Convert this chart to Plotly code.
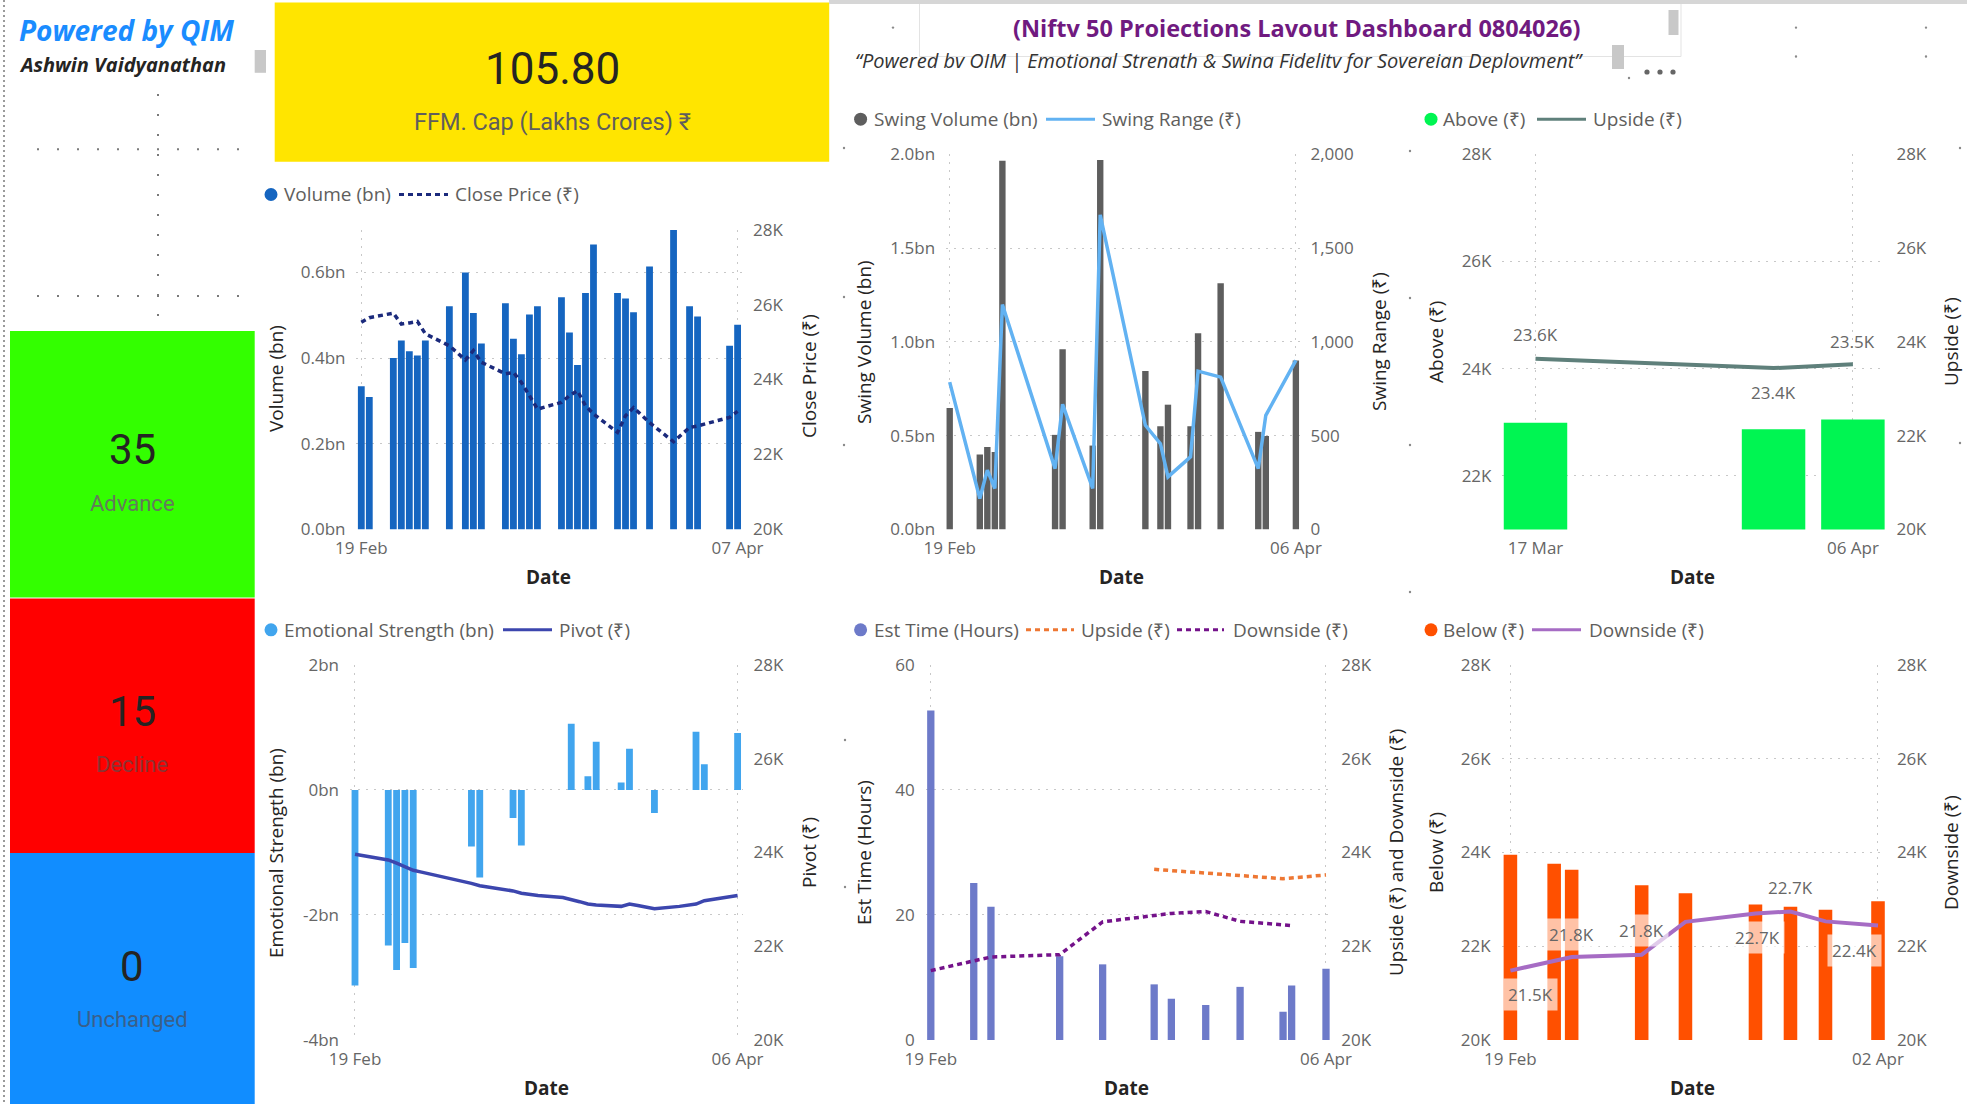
import plotly.graph_objects as go
import pandas as pd

# ======================= DATA =======================
vol_dates = ["2026-02-19", "2026-02-20", "2026-02-23", "2026-02-24", "2026-02-25", "2026-02-26",
             "2026-02-27", "2026-03-02", "2026-03-04", "2026-03-05", "2026-03-06", "2026-03-09",
             "2026-03-10", "2026-03-11", "2026-03-12", "2026-03-13", "2026-03-16", "2026-03-17",
             "2026-03-18", "2026-03-19", "2026-03-20", "2026-03-23", "2026-03-24", "2026-03-25",
             "2026-03-27", "2026-03-30", "2026-04-01", "2026-04-02", "2026-04-06", "2026-04-07"]
volume_bn = [0.334, 0.309, 0.400, 0.441, 0.416, 0.406, 0.441, 0.521, 0.600, 0.505, 0.434, 0.528,
             0.445, 0.409, 0.502, 0.521, 0.542, 0.460, 0.384, 0.552, 0.665, 0.552, 0.539, 0.507,
             0.614, 0.699, 0.521, 0.497, 0.429, 0.478]
close_price = [25530, 25650, 25770, 25480, 25510, 25550, 25220, 24900, 24520, 24770, 24460, 24150,
               24190, 23920, 23570, 23210, 23390, 23570, 23700, 23300, 23080, 22590, 23030, 23250,
               22850, 22340, 22720, 22760, 22990, 23150]

swing_dates = ["2026-02-19", "2026-02-23", "2026-02-24", "2026-02-25", "2026-02-26", "2026-03-05",
               "2026-03-06", "2026-03-10", "2026-03-11", "2026-03-17", "2026-03-19", "2026-03-20",
               "2026-03-23", "2026-03-24", "2026-03-27", "2026-04-01", "2026-04-02", "2026-04-06"]
swing_volume_bn = [0.647, 0.400, 0.440, 0.413, 1.965, 0.504, 0.961, 0.447, 1.970, 0.844, 0.550,
                   0.665, 0.550, 1.046, 1.312, 0.520, 0.498, 0.900]
swing_range = [785, 165, 316, 218, 1199, 324, 667, 218, 1677, 555, 457, 280, 387, 844, 812, 324,
               608, 901]

above_dates = ["2026-03-17", "2026-04-01", "2026-04-06"]
above_vals = [22990, 22870, 23050]
upside_vals = [23640, 23440, 23520]

emotional_bn = [-3.13, -2.49, -2.88, -2.45, -2.85, -0.906, -1.40, -0.45, -0.89, 1.06, 0.22, 0.77,
                0.117, 0.66, -0.37, 0.93, 0.41, 0.91]
pivot_dates = vol_dates[:29]
pivot_vals = [23960, 23930, 23840, 23770, 23700, 23620, 23580, 23460, 23390, 23340, 23290, 23220,
              23180, 23130, 23110, 23080, 23040, 23000, 22950, 22900, 22880, 22850, 22900, 22870,
              22800, 22850, 22900, 22970, 23080]

est_dates = ["2026-02-19", "2026-02-24", "2026-02-26", "2026-03-06", "2026-03-11", "2026-03-17",
             "2026-03-19", "2026-03-23", "2026-03-27", "2026-04-01", "2026-04-02", "2026-04-06"]
est_hours = [52.7, 25.1, 21.3, 13.4, 12.1, 8.9, 6.6, 5.6, 8.5, 4.5, 8.7, 11.4]

below_dates = ["2026-02-19", "2026-02-24", "2026-02-26", "2026-03-06", "2026-03-11", "2026-03-19",
               "2026-03-23", "2026-03-27", "2026-04-02"]
below_vals = [23950, 23760, 23630, 23300, 23130, 22890, 22840, 22780, 22960]
downside_vals = [21480, 21700, 21770, 21820, 22520, 22700, 22740, 22530, 22440]

ffm_cap = "105.80"
advance, decline, unchanged = 35, 15, 0

price_ticks = [20000, 22000, 24000, 26000, 28000]
price_ticktext = ["20K", "22K", "24K", "26K", "28K"]
above_ticks = [22000, 24000, 26000, 28000]
above_ticktext = ["22K", "24K", "26K", "28K"]
vol_ticks = [0, 0.2, 0.4, 0.6]
vol_ticktext = ["0.0bn", "0.2bn", "0.4bn", "0.6bn"]
swing_ticks = [0, 0.5, 1.0, 1.5, 2.0]
swing_ticktext = ["0.0bn", "0.5bn", "1.0bn", "1.5bn", "2.0bn"]
range_ticks = [0, 500, 1000, 1500, 2000]
range_ticktext = ["0", "500", "1,000", "1,500", "2,000"]
emo_ticks = [-4, -2, 0, 2]
emo_ticktext = ["-4bn", "-2bn", "0bn", "2bn"]
est_ticks = [0, 20, 40, 60]
est_ticktext = ["0", "20", "40", "60"]

# ======================= STYLE =======================
W, H = 1967, 1104
FONT = "Segoe UI, Open Sans, sans-serif"
TICK_COLOR = "#666666"
TITLE_COLOR = "#252423"
LEG_COLOR = "#605E5C"
GRID = "#c8c8c8"
GDASH = "2px,6px"
DAY_MS = 86400000


def fx(px):
    return px / W


def fy(py):
    return 1 - py / H


layout = dict(width=W, height=H, margin=dict(l=0, r=0, t=0, b=0), paper_bgcolor="white",
              plot_bgcolor="rgba(0,0,0,0)", showlegend=False, template="none",
              font=dict(family=FONT), hovermode=False)
shapes, annotations, traces = [], [], []


def setup(i, first, last, g, yl, yr):
    xname = "xaxis" if i == 1 else f"xaxis{i}"
    xref = "x" if i == 1 else f"x{i}"
    li, ri = 2 * i - 1, 2 * i
    ylname = "yaxis" if li == 1 else f"yaxis{li}"
    ylref = "y" if li == 1 else f"y{li}"
    yrname, yrref = f"yaxis{ri}", f"y{ri}"
    t0, t1 = pd.Timestamp(first), pd.Timestamp(last)
    span = (t1 - t0).days
    ppd = (g["x1"] - g["x0"]) / span
    lpx = g["x0"] - g["pl"] * ppd
    rpx = g["x1"] + g["pr"] * ppd
    r0 = (t0 - pd.Timedelta(days=g["pl"])).isoformat()
    r1 = (t1 + pd.Timedelta(days=g["pr"])).isoformat()
    tickfont = dict(size=17, color=TICK_COLOR, family=FONT)
    layout[xname] = dict(type="date", domain=[fx(lpx), fx(rpx)], range=[r0, r1], anchor=ylref,
                         tickvals=[first, last], tickformat="%d %b", showgrid=True,
                         gridcolor=GRID, griddash=GDASH, gridwidth=1, zeroline=False,
                         showline=False, ticks="", tickfont=tickfont, ticklabelstandoff=7,
                         automargin=False, fixedrange=True)
    layout[ylname] = dict(domain=[fy(g["bot"]), fy(g["top"])], anchor=xref, range=yl[0],
                          tickvals=yl[1], ticktext=yl[2], showgrid=True, gridcolor=GRID,
                          griddash=GDASH, gridwidth=1, zeroline=False, showline=False,
                          ticks="", tickfont=tickfont, ticklabelstandoff=10, automargin=False,
                          fixedrange=True)
    layout[yrname] = dict(overlaying=ylref, side="right", anchor=xref, range=yr[0],
                          tickvals=yr[1], ticktext=yr[2], showgrid=False, zeroline=False,
                          showline=False, ticks="", tickfont=tickfont, ticklabelstandoff=10,
                          automargin=False, fixedrange=True)
    return xref, ylref, yrref


def text(x, y, s, size, color, xanchor="center", yanchor="middle", angle=0, family=FONT):
    annotations.append(dict(x=fx(x), y=fy(y), xref="paper", yref="paper", text=s,
                            showarrow=False, xanchor=xanchor, yanchor=yanchor, textangle=angle,
                            font=dict(size=size, color=color, family=family)))


def rect(x0, y0, x1, y1, fill, line=None):
    shapes.append(dict(type="rect", xref="paper", yref="paper", x0=fx(x0), x1=fx(x1),
                       y0=fy(y1), y1=fy(y0), fillcolor=fill,
                       line=line if line else dict(width=0), layer="below"))


def hline(x0, x1, y, color, width, dash="solid"):
    shapes.append(dict(type="line", xref="paper", yref="paper", x0=fx(x0), x1=fx(x1),
                       y0=fy(y), y1=fy(y), line=dict(color=color, width=width, dash=dash)))


def vline(x, y0, y1, color, width, dash="solid"):
    shapes.append(dict(type="line", xref="paper", yref="paper", x0=fx(x), x1=fx(x),
                       y0=fy(y0), y1=fy(y1), line=dict(color=color, width=width, dash=dash)))


def dot(cx, cy, r, color):
    shapes.append(dict(type="circle", xref="paper", yref="paper", x0=fx(cx - r), x1=fx(cx + r),
                       y0=fy(cy + r), y1=fy(cy - r), fillcolor=color, line=dict(width=0)))


def legend(items, y):
    for kind, x0, x1, color, dash, label, tx in items:
        if kind == "dot":
            dot(x0, y, 6.5, color)
        else:
            hline(x0, x1, y, color, 3, dash)
        text(tx, y, label, 19, LEG_COLOR, xanchor="left")


def axis_titles(left, lx, ly, right, rx, ry, dx, dy):
    text(lx, ly, left, 19, TITLE_COLOR, angle=-90)
    text(rx, ry, right, 19, TITLE_COLOR, angle=-90)
    text(dx, dy, "<b>Date</b>", 19, TITLE_COLOR)


def kfmt(v):
    return f"{v / 1000:.1f}K"


G1 = dict(x0=361.3, x1=737.6, pl=0.6, pr=0.55, top=229.6, bot=529.4)
G2 = dict(x0=949.7, x1=1295.9, pl=0.48, pr=0.48, top=154.3, bot=529.4)
G3 = dict(x0=1535.5, x1=1852.9, pl=2.08, pr=2.05, top=154.3, bot=529.4)
G4 = dict(x0=355.0, x1=737.6, pl=0.6, pr=0.6, top=664.9, bot=1040.0)
G5 = dict(x0=930.8, x1=1326.0, pl=0.6, pr=0.5, top=664.9, bot=1040.0)
G6 = dict(x0=1510.4, x1=1878.0, pl=1.0, pr=0.9, top=664.9, bot=1040.0)

C1_BAR, C1_LINE = "#1565C0", "#1B2A7C"
C2_BAR, C2_LINE = "#5e5e5e", "#62B2F2"
C3_BAR, C3_LINE = "#00F552", "#5F807B"
C4_BAR, C4_LINE = "#41A5EE", "#3C46AE"
C5_BAR, C5_UP, C5_DN = "#6D7AC9", "#EE7733", "#74128A"
C6_BAR, C6_LINE = "#FF5000", "#A66CC4"
LDASH = "5px,4px"

# ---------------- Chart 1: Volume / Close Price ----------------
xr, yl, yr = setup(1, vol_dates[0], vol_dates[-1], G1, ([0, 0.7], vol_ticks, vol_ticktext),
                   ([20000, 28000], price_ticks, price_ticktext))
traces.append(go.Bar(x=vol_dates, y=volume_bn, width=0.85 * DAY_MS, marker=dict(color=C1_BAR, line=dict(width=0)),
                     xaxis=xr, yaxis=yl))
traces.append(go.Scatter(x=vol_dates, y=close_price, mode="lines", line=dict(color=C1_LINE, width=3.5, dash=LDASH),
                         xaxis=xr, yaxis=yr))
legend([("dot", 271, 0, C1_BAR, None, "Volume (bn)", 282),
        ("line", 399, 448, C1_LINE, LDASH, "Close Price (₹)", 453)], 194.5)
axis_titles("Volume (bn)", 276, 379, "Close Price (₹)", 809, 376, 548, 577)

# ---------------- Chart 2: Swing Volume / Swing Range ----------------
xr, yl, yr = setup(2, swing_dates[0], swing_dates[-1], G2, ([0, 2.0], swing_ticks, swing_ticktext),
                   ([0, 2000], range_ticks, range_ticktext))
traces.append(go.Bar(x=swing_dates, y=swing_volume_bn, width=0.85 * DAY_MS,
                     marker=dict(color=C2_BAR, line=dict(width=0)), xaxis=xr, yaxis=yl))
traces.append(go.Scatter(x=swing_dates, y=swing_range, mode="lines", line=dict(color=C2_LINE, width=3.5),
                         xaxis=xr, yaxis=yr))
legend([("dot", 860.6, 0, C2_BAR, None, "Swing Volume (bn)", 872),
        ("line", 1046, 1095, C2_LINE, "solid", "Swing Range (₹)", 1100)], 119.2)
axis_titles("Swing Volume (bn)", 864, 342, "Swing Range (₹)", 1379, 342, 1121, 577)

# ---------------- Chart 3: Above / Upside ----------------
xr, yl, yr = setup(3, above_dates[0], above_dates[-1], G3, ([21000, 28000], above_ticks, above_ticktext),
                   ([20000, 28000], price_ticks, price_ticktext))
traces.append(go.Bar(x=above_dates, y=above_vals, width=4.0 * DAY_MS,
                     marker=dict(color=C3_BAR, line=dict(width=0)), xaxis=xr, yaxis=yl))
traces.append(go.Scatter(x=above_dates, y=upside_vals, mode="lines", line=dict(color=C3_LINE, width=4),
                         xaxis=xr, yaxis=yr))
for k, shift in zip(range(len(above_dates)), [24, -24, 23]):
    annotations.append(dict(x=above_dates[k], y=upside_vals[k], xref=xr, yref=yr, text=kfmt(upside_vals[k]),
                            showarrow=False, yshift=shift, font=dict(size=17, color=TICK_COLOR, family=FONT)))
legend([("dot", 1431, 0, C3_BAR, None, "Above (₹)", 1441),
        ("line", 1537, 1586, C3_LINE, "solid", "Upside (₹)", 1591)], 119.2)
axis_titles("Above (₹)", 1436, 342, "Upside (₹)", 1951, 342, 1692, 577)

# ---------------- Chart 4: Emotional Strength / Pivot ----------------
xr, yl, yr = setup(4, swing_dates[0], swing_dates[-1], G4, ([-4, 2], emo_ticks, emo_ticktext),
                   ([20000, 28000], price_ticks, price_ticktext))
traces.append(go.Bar(x=swing_dates, y=emotional_bn, width=0.82 * DAY_MS,
                     marker=dict(color=C4_BAR, line=dict(width=0)), xaxis=xr, yaxis=yl))
traces.append(go.Scatter(x=pivot_dates, y=pivot_vals, mode="lines", line=dict(color=C4_LINE, width=3.5),
                         xaxis=xr, yaxis=yr))
legend([("dot", 271, 0, C4_BAR, None, "Emotional Strength (bn)", 282),
        ("line", 503, 552, C4_LINE, "solid", "Pivot (₹)", 557)], 629.8)
axis_titles("Emotional Strength (bn)", 276, 853, "Pivot (₹)", 809, 853, 546, 1088)

# ---------------- Chart 5: Est Time / Upside & Downside ----------------
xr, yl, yr = setup(5, est_dates[0], est_dates[-1], G5, ([0, 60], est_ticks, est_ticktext),
                   ([20000, 28000], price_ticks, price_ticktext))
traces.append(go.Bar(x=est_dates, y=est_hours, width=0.85 * DAY_MS,
                     marker=dict(color=C5_BAR, line=dict(width=0)), xaxis=xr, yaxis=yl))
traces.append(go.Scatter(x=above_dates, y=upside_vals, mode="lines", line=dict(color=C5_UP, width=3.5, dash=LDASH),
                         xaxis=xr, yaxis=yr))
traces.append(go.Scatter(x=below_dates, y=downside_vals, mode="lines", line=dict(color=C5_DN, width=3.5, dash=LDASH),
                         xaxis=xr, yaxis=yr))
legend([("dot", 860.6, 0, C5_BAR, None, "Est Time (Hours)", 872),
        ("line", 1026, 1074, C5_UP, LDASH, "Upside (₹)", 1079),
        ("line", 1177, 1224, C5_DN, LDASH, "Downside (₹)", 1231)], 629.8)
axis_titles("Est Time (Hours)", 864, 853, "Upside (₹) and Downside (₹)", 1396, 853, 1126, 1088)

# ---------------- Chart 6: Below / Downside ----------------
xr, yl, yr = setup(6, below_dates[0], below_dates[-1], G6, ([20000, 28000], price_ticks, price_ticktext),
                   ([20000, 28000], price_ticks, price_ticktext))
traces.append(go.Bar(x=below_dates, y=below_vals, width=1.55 * DAY_MS,
                     marker=dict(color=C6_BAR, line=dict(width=0)), xaxis=xr, yaxis=yl))
traces.append(go.Scatter(x=below_dates, y=downside_vals, mode="lines", line=dict(color=C6_LINE, width=4),
                         xaxis=xr, yaxis=yr))
label_style = [(0, -24, "left", -7), (2, 23, "center", 0), (3, 24, "center", 0),
               (5, -24, "center", 2), (6, 24, "center", 0), (8, -25, "right", 4)]
for k, ys, xa, xs in label_style:
    annotations.append(dict(x=below_dates[k], y=downside_vals[k], xref=xr, yref=yr, text=kfmt(downside_vals[k]),
                            showarrow=False, yshift=ys, xshift=xs, xanchor=xa,
                            bgcolor="rgba(255,255,255,0.65)", borderpad=4,
                            font=dict(size=17, color=TICK_COLOR, family=FONT)))
legend([("dot", 1431, 0, C6_BAR, None, "Below (₹)", 1441),
        ("line", 1532, 1581, C6_LINE, "solid", "Downside (₹)", 1587)], 629.8)
axis_titles("Below (₹)", 1436, 853, "Downside (₹)", 1951, 853, 1692, 1088)

# ---------------- Header / side panel ----------------
vline(4, 0, 1104, "#9a9a9a", 2, "2px,3px")
hline(829, 1967, 2, "#d6d6d6", 4)
text(17, 30, "<b><i>Powered by QIM</i></b>", 28, "#1A8CFF", xanchor="left")
text(17, 65, "<b><i>Ashwin Vaidyanathan</i></b>", 20, "#252423", xanchor="left")
rect(254.7, 50, 266, 72.8, "#c8c8c8")
hline(37, 251, 149.3, "#7a7a7a", 2, "2px,18px")
hline(37, 251, 296, "#7a7a7a", 2, "2px,18px")
vline(158, 94, 320, "#7a7a7a", 2, "2px,18px")

rect(274.7, 2.5, 829.2, 161.8, "#FFE500")
text(552, 69, ffm_cap, 44, "#252423", family="Roboto, DejaVu Sans, sans-serif")
text(552, 122, "FFM. Cap (Lakhs Crores) ₹", 23.5, "#605E5C", family="Roboto, DejaVu Sans, sans-serif")

CARD_FONT = "Roboto, DejaVu Sans, sans-serif"
rect(10, 331, 254.7, 597.5, "#33FF00")
rect(10, 598.4, 254.7, 853, "#FF0000")
rect(10, 853, 254.7, 1104, "#118DFF")
text(132, 449, str(advance), 42, "#252423", family=CARD_FONT)
text(132, 503, "Advance", 22, "#647a5c", family=CARD_FONT)
text(132, 711, str(decline), 42, "#252423", family=CARD_FONT)
text(132, 764, "Decline", 22, "#8c3434", family=CARD_FONT)
text(132, 966, str(unchanged), 42, "#252423", family=CARD_FONT)
text(132, 1019, "Unchanged", 22, "#3a5f8a", family=CARD_FONT)

rect(919.5, 2.5, 1681, 56.5, "white", dict(color="#e3e3e3", width=1))
text(1296, 28, "<b>(Niftv 50 Proiections Lavout Dashboard 0804026)</b>", 23.5, "#701A80")
text(853, 61, "<i>\u201cPowered bv OIM | Emotional Strenath & Swina Fidelitv for Sovereian Deplovment\u201d</i>",
     20, "#333333", xanchor="left")
rect(1668.5, 10, 1678.5, 35, "#c8c8c8")
rect(1612, 45, 1624, 69, "#c8c8c8")
for cx in (1647, 1660, 1673):
    dot(cx, 72, 2.6, "#666666")

for (cx, cy) in [(893, 27.6), (1796, 27.6), (1926, 27.6), (1796, 56.5), (1926, 56.5), (1629, 78),
                 (844, 148), (844, 297), (844, 445), (1410, 151), (1410, 298), (1410, 445), (1410, 592),
                 (1960, 148), (1960, 443), (845, 740), (845, 887)]:
    dot(cx, cy, 1.2, "#8a8a8a")

layout["shapes"] = shapes
layout["annotations"] = annotations
fig = go.Figure(data=traces, layout=layout)
fig.write_html("out.html", config={"displayModeBar": False, "staticPlot": True},
               post_script="document.body.style.margin='0';document.body.style.overflow='hidden';")
